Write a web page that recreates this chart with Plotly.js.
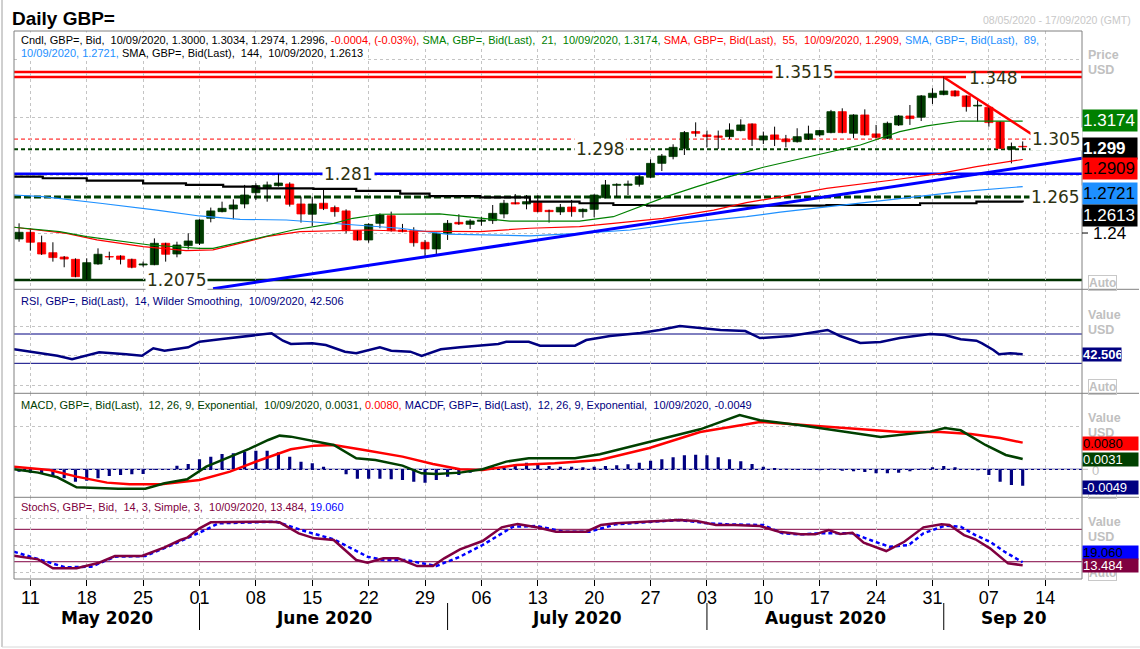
<!DOCTYPE html>
<html><head><meta charset="utf-8">
<script src="https://cdn.plot.ly/plotly-3.0.1.min.js"></script>
<style>html,body{margin:0;padding:0;background:#fff;}#chart{width:1140px;height:649px;}</style>
</head><body><div id="chart"></div>
<script>
// ---------------- DATA ----------------
// daily candles, index 0 = 08/05/2020 ... 89 = 10/09/2020 (weekdays)
const open  = [1.2359,1.2405,1.2333,1.2264,1.2234,1.2218,1.2080,1.2186,1.2237,1.2241,1.2218,1.2179,1.2181,1.2329,1.2255,1.2313,1.2329,1.2502,1.2548,1.2566,1.2601,1.2679,1.2714,1.2728,1.2739,1.2601,1.2530,1.2606,1.2576,1.2553,1.2416,1.2352,1.2467,1.2520,1.2421,1.2416,1.2336,1.2290,1.2398,1.2474,1.2460,1.2481,1.2486,1.2532,1.2610,1.2601,1.2610,1.2557,1.2546,1.2580,1.2548,1.2564,1.2645,1.2730,1.2730,1.2737,1.2786,1.2882,1.2929,1.2986,1.3102,1.3079,1.3072,1.3067,1.3109,1.3155,1.3044,1.3079,1.3051,1.3032,1.3049,1.3079,1.3095,1.3240,1.3090,1.3217,1.3086,1.3056,1.3148,1.3210,1.3201,1.3337,1.3358,1.3383,1.3349,1.3279,1.3270,1.3169,1.2979,1.3000];
const high  = [1.2467,1.2433,1.2382,1.2336,1.2241,1.2225,1.2225,1.2294,1.2271,1.2246,1.2223,1.2202,1.2363,1.2333,1.2340,1.2398,1.2495,1.2576,1.2617,1.2633,1.2733,1.2744,1.2756,1.2810,1.2751,1.2652,1.2652,1.2698,1.2590,1.2564,1.2421,1.2467,1.2536,1.2548,1.2463,1.2440,1.2352,1.2403,1.2490,1.2530,1.2495,1.2513,1.2594,1.2629,1.2670,1.2663,1.2663,1.2562,1.2601,1.2629,1.2571,1.2668,1.2767,1.2744,1.2763,1.2802,1.2910,1.2947,1.3014,1.3106,1.3166,1.3109,1.3109,1.3159,1.3187,1.3159,1.3102,1.3136,1.3079,1.3125,1.3143,1.3113,1.3252,1.3263,1.3222,1.3256,1.3148,1.3171,1.3217,1.3286,1.3355,1.3402,1.3482,1.3388,1.3353,1.3325,1.3275,1.3173,1.3026,1.3034];
const low   = [1.2340,1.2278,1.2248,1.2202,1.2163,1.2094,1.2075,1.2180,1.2213,1.2183,1.2156,1.2167,1.2177,1.2202,1.2232,1.2287,1.2317,1.2474,1.2543,1.2495,1.2571,1.2629,1.2617,1.2721,1.2583,1.2472,1.2449,1.2559,1.2513,1.2398,1.2347,1.2333,1.2433,1.2410,1.2405,1.2306,1.2237,1.2253,1.2352,1.2456,1.2428,1.2451,1.2463,1.2502,1.2599,1.2564,1.2543,1.2472,1.2525,1.2513,1.2506,1.2509,1.2640,1.2652,1.2663,1.2721,1.2779,1.2829,1.2910,1.2940,1.3067,1.2993,1.2982,1.3051,1.3104,1.3002,1.3016,1.3002,1.2993,1.3026,1.3044,1.3067,1.3090,1.3090,1.3056,1.3074,1.3056,1.3051,1.3141,1.3148,1.3175,1.3293,1.3353,1.3344,1.3240,1.3171,1.3136,1.2982,1.2882,1.2974];
const close = [1.2405,1.2336,1.2255,1.2230,1.2220,1.2098,1.2195,1.2253,1.2234,1.2218,1.2163,1.2186,1.2329,1.2253,1.2317,1.2345,1.2490,1.2553,1.2571,1.2594,1.2663,1.2728,1.2733,1.2746,1.2599,1.2532,1.2601,1.2569,1.2548,1.2416,1.2352,1.2460,1.2525,1.2416,1.2410,1.2333,1.2290,1.2398,1.2467,1.2463,1.2483,1.2490,1.2536,1.2606,1.2601,1.2617,1.2548,1.2548,1.2578,1.2548,1.2564,1.2663,1.2733,1.2737,1.2739,1.2790,1.2882,1.2933,1.2993,1.3095,1.3090,1.3067,1.3062,1.3113,1.3148,1.3049,1.3072,1.3049,1.3032,1.3067,1.3086,1.3109,1.3240,1.3095,1.3217,1.3079,1.3062,1.3159,1.3210,1.3192,1.3349,1.3367,1.3383,1.3349,1.3275,1.3284,1.3164,1.2986,1.2998,1.2996];

// moving averages (x = candle index)
const sma21X = [-0.45,3.6,6,9.2,11.6,16,17.2,20.5,23.1,24.3,27.9,29.6,32,37.3,43.5,49.7,52.7,55.1,57.4,60.1,63,66,70.2,74.6,78.1,80.5,83.5,86.4,89];
const sma21Y = [1.2440,1.2410,1.2375,1.2340,1.2317,1.2294,1.2294,1.2352,1.2398,1.2421,1.2467,1.2502,1.2530,1.2532,1.2483,1.2483,1.2513,1.2583,1.2652,1.2721,1.2790,1.2855,1.2929,1.3009,1.3102,1.3141,1.3175,1.3175,1.3174];
const sma55X = [-0.45,4.2,6.9,11,14.8,17.2,20.2,21.9,24.9,27.9,30.8,33.8,37.9,40.9,45.3,49.7,52.7,57.1,61.6,64.5,67.5,71.6,77.5,81.7,84.9,89];
const sma55Y = [1.2440,1.2398,1.2352,1.2306,1.2278,1.2283,1.2340,1.2375,1.2410,1.2414,1.2421,1.2414,1.2410,1.2410,1.2433,1.2444,1.2467,1.2502,1.2559,1.2610,1.2650,1.2709,1.2767,1.2813,1.2859,1.2909];
const sma89X = [-0.45,2.1,7.2,12.2,16,19.6,23.7,27.9,30.8,33.8,37.9,40.9,45.3,49.7,54.2,58.6,61.6,64.5,67.5,71.6,77.5,83.5,89];
const sma89Y = [1.2663,1.2652,1.2606,1.2559,1.2518,1.2495,1.2490,1.2467,1.2451,1.2433,1.2393,1.2386,1.2380,1.2398,1.2421,1.2467,1.2490,1.2513,1.2545,1.2583,1.2633,1.2686,1.2721];
const sma144X = [-0.45,2.1,6,11,14.8,18.1,21.1,26.1,29.9,33.8,36.4,40.9,45.3,49.7,52.7,55.7,60.1,64.5,71.6,79.9,84.9,89];
const sma144Y = [1.2790,1.2779,1.2762,1.2744,1.2733,1.2721,1.2709,1.2705,1.2691,1.2672,1.2655,1.2647,1.2617,1.2606,1.2594,1.2589,1.2589,1.2590,1.2594,1.2606,1.2617,1.2613];

// drawn trend lines
const upTrendX = [17.2, 94.26], upTrendY = [1.2015, 1.2917];
const downTrendX = [82, 91.6], downTrendY = [1.3478, 1.2993];

// horizontal levels
const levels      = [1.3515, 1.348, 1.305, 1.298, 1.281, 1.265, 1.2075];
const levelLabels = ['1.3515','1.348','1.305','1.298','1.281','1.265','1.2075'];

// RSI 14
const rsiX = [-0.45,1.7,3.4,4.7,6.1,7.1,9.5,10.9,11.9,12.9,15,16,18,21,22.4,23.4,24.1,26,27.2,28.9,29.9,32,33,34.7,35.7,37.4,39.1,42.5,43.2,45.2,46.2,49.3,50.3,51.5,52.4,55.1,56.8,58.6,60.4,62.2,64.4,65.7,68.4,70.2,71.7,72.8,74.6,76.4,78.1,80.8,82.1,83.5,84.9,85.4,86.4,86.9,87.9,89];
const rsiY = [49.1,43.7,40.4,35.5,41.3,45,42.3,40.4,50.5,47.2,51.9,59.5,63.2,68.6,70.9,60.9,56.4,57.3,55,45.9,43.7,51.9,47.2,45.9,40,49.1,51.9,56.4,59.5,59.5,54,54,61.8,65,67.3,71.4,75.5,80.9,78.2,75.5,74.1,64.5,67.3,71.4,75.5,67.3,57.7,59.1,64.5,70,68.6,62.8,60.9,57.3,48.2,42.3,43.7,42.506];

// MACD 12,26,9
const macdX = [-0.45,1.7,3.4,5.1,8.8,11.2,12.9,14.9,16.6,18.7,20.4,22.1,23.1,24.1,26.2,27.9,29.9,31.6,34,35.7,37,39.1,41.1,43.2,45.2,49.3,51.5,55.1,60.4,63.9,65.7,69.3,73.7,76.4,80.8,82.1,83.5,85.7,87.5,89];
const macdY = [0,-0.0010,-0.0024,-0.0054,-0.0058,-0.0058,-0.0042,-0.0030,0.0008,0.0038,0.0061,0.0088,0.0101,0.0098,0.0083,0.0073,0.0033,0.0028,0.0011,-0.0012,-0.0014,-0.0010,0,0.0023,0.0033,0.0033,0.0045,0.0075,0.0120,0.0163,0.0147,0.0132,0.0111,0.0097,0.0113,0.0124,0.0117,0.0073,0.0043,0.0031];
const signalX = [-0.45,2.7,5.1,7.8,9.8,12.6,16,18.7,21.4,24.1,26.2,27.9,30.6,34,36.7,39.1,41.1,44.1,47.5,51.5,55.9,60.4,65.7,69.3,73.7,78.1,81.7,84.4,87,89];
const signalY = [0.0008,-0.0002,-0.0022,-0.0040,-0.0045,-0.0045,-0.0032,-0.0007,0.0028,0.0060,0.0071,0.0073,0.0058,0.0038,0.0016,0,-0.0002,0.0013,0.0018,0.0028,0.0064,0.0112,0.0142,0.0133,0.0124,0.0112,0.0112,0.0106,0.0094,0.0080];
const histY = [-0.0007,-0.0010,-0.0012,-0.0022,-0.0027,-0.0037,-0.0034,-0.0027,-0.0020,-0.0017,-0.0015,-0.0014,-0.0002,0.0001,0.0011,0.0016,0.0030,0.0038,0.0046,0.0048,0.0053,0.0056,0.0056,0.0051,0.0038,0.0023,0.0018,0.0008,0.0000,-0.0015,-0.0028,-0.0028,-0.0028,-0.0030,-0.0032,-0.0037,-0.0040,-0.0032,-0.0022,-0.0017,-0.0010,0.0000,0.0006,0.0010,0.0016,0.0020,0.0016,0.0010,0.0008,0.0008,0.0006,0.0008,0.0010,0.0012,0.0015,0.0020,0.0026,0.0030,0.0036,0.0042,0.0044,0.0042,0.0036,0.0030,0.0024,0.0016,0.0008,0.0004,0.0002,-0.0002,-0.0002,-0.0003,0.0002,-0.0004,-0.0006,-0.0008,-0.0012,-0.0012,-0.0010,-0.0006,0.0002,0.0006,0.0010,0.0006,-0.0002,-0.0003,-0.0017,-0.0037,-0.0047,-0.0049];

// Slow stochastic 14,3,3
const stochKX = [-0.45,1.7,3.0,5.1,7.1,8.5,10.9,12.9,14.3,14.9,16,17,22.1,23.1,24.8,26.2,27.9,29.9,30.9,32.3,33.6,35.3,36.7,37.7,39.1,41.1,42.8,44.2,45.9,47.6,50.3,51.6,52.9,55.5,58.5,60.1,61.8,63.4,65.7,67.4,69.3,70.6,71.8,72.8,73.9,74.9,76.9,78.5,80.2,81.8,82.5,83.8,84.8,86.1,87.7,89];
const stochKY = [31.1,24.4,7.8,7.8,18.1,30.6,30.6,46.7,60.2,64.4,81.8,93,94.1,93,72.6,63.3,60.2,23.1,18.1,26.3,26.3,12,12,26.3,43,58.3,83.7,89.8,83.7,75.6,75.6,88,91.1,94.1,97.2,95.4,88,88,86.1,75.6,70.7,70.7,78.7,71.3,73.7,55.2,39.8,57,83.7,89.2,88,69.4,61.5,44.8,17,13.484];
const stochDX = [-0.45,2.0,4.1,6.4,8.5,11.2,13.9,16.3,17.7,22.8,25.5,27.9,30.9,32.3,34.3,37,39.1,41.1,43.8,45.9,48.3,50.6,52.9,58.5,61.1,62.8,66,67.7,69.3,71,73.9,75.9,77.2,78.9,80.2,82.1,83.5,84.8,86.1,87.4,89];
const stochDY = [38.5,23.1,9.6,10.7,29.3,30.6,54.1,76.9,91.1,94.1,75.6,61.5,29.3,23.1,23.1,12,29.3,50.9,84.8,86.1,75.6,75.6,89.2,97.2,91.1,89.2,88,72.6,70.7,72.6,72.6,57,47.8,50.9,72.6,86.7,84.8,69.4,57,38.5,19.06];

// x-axis labels (Mondays)
const tickIdx  = [1,6,11,16,21,26,31,36,41,46,51,56,61,66,71,76,81,86,91];
const tickText = ['11','18','25','01','08','15','22','29','06','13','20','27','03','10','17','24','31','07','14'];
const monthStart = [16,38,61,82];
const monthNames = ['May 2020','June 2020','July 2020','August 2020','Sep 20'];
const monthMid   = [7.8,27,49.5,71.5,88.2];

// ---------------- LAYOUT GEOMETRY ----------------
const W=1140,H=649,PL=14,PR=1082,PT=31,PB=579,PW=PR-PL,PH=PB-PT;
const px = p => (p-PL)/PW, py = p => (PB-p)/PH;
const dPrice=[py(289.3),1], dRsi=[py(393.3),py(289.3)], dMacd=[py(497.3),py(393.3)], dSto=[0,py(497.3)];
const UP='#003c00', DN='#ff0000', NAVY='#000080', MAROON='#800040', GRID='#c4c4c4';

const idx = open.map((_,k)=>k);
const wx=[], wy=[];
idx.forEach(k=>{wx.push(k,k,null); wy.push(low[k],high[k],null);});

const traces = [
  {type:'scatter',mode:'lines',x:wx,y:wy,line:{color:'#000',width:1},xaxis:'x',yaxis:'y',hoverinfo:'skip'},
  {type:'bar',x:idx,base:idx.map(k=>Math.min(open[k],close[k])),y:idx.map(k=>Math.abs(close[k]-open[k])),width:0.72,
   marker:{color:idx.map(k=>close[k]>=open[k]?UP:DN),line:{width:0.8,color:idx.map(k=>close[k]>=open[k]?UP:DN)}},xaxis:'x',yaxis:'y'},
  {type:'scatter',mode:'lines',x:sma144X,y:sma144Y,line:{color:'#000',width:2.2,shape:'hv'},xaxis:'x',yaxis:'y'},
  {type:'scatter',mode:'lines',x:sma89X,y:sma89Y,line:{color:'#1e90ff',width:1.2},xaxis:'x',yaxis:'y'},
  {type:'scatter',mode:'lines',x:sma55X,y:sma55Y,line:{color:'#ff0000',width:1.2},xaxis:'x',yaxis:'y'},
  {type:'scatter',mode:'lines',x:sma21X,y:sma21Y,line:{color:'#008000',width:1.2},xaxis:'x',yaxis:'y'},
  {type:'scatter',mode:'lines',x:upTrendX,y:upTrendY,line:{color:'#0000ff',width:3},xaxis:'x',yaxis:'y'},
  {type:'scatter',mode:'lines',x:downTrendX,y:downTrendY,line:{color:'#ff0000',width:2.5},xaxis:'x',yaxis:'y'},
  {type:'scatter',mode:'lines',x:rsiX,y:rsiY,line:{color:NAVY,width:2.5},xaxis:'x',yaxis:'y2'},
  {type:'bar',x:idx,y:histY,width:0.28,marker:{color:NAVY},xaxis:'x',yaxis:'y3'},
  {type:'scatter',mode:'lines',x:signalX,y:signalY,line:{color:'#ff0000',width:2.5},xaxis:'x',yaxis:'y3'},
  {type:'scatter',mode:'lines',x:macdX,y:macdY,line:{color:'#004000',width:2.5},xaxis:'x',yaxis:'y3'},
  {type:'scatter',mode:'lines',x:stochDX,y:stochDY,line:{color:'#0000ff',width:2.5,dash:'4px,3px'},xaxis:'x',yaxis:'y4'},
  {type:'scatter',mode:'lines',x:stochKX,y:stochKY,line:{color:MAROON,width:2.5},xaxis:'x',yaxis:'y4'}
];

const yBase = {showticklabels:false,ticks:'',zeroline:false,showline:false,gridcolor:GRID,griddash:'3px,3px',gridwidth:1,fixedrange:true,anchor:'x'};
const layout = {
  width:W,height:H,margin:{l:PL,r:W-PR,t:PT,b:H-PB,pad:0},paper_bgcolor:'#fff',plot_bgcolor:'#fff',
  showlegend:false,barmode:'overlay',hovermode:false,
  xaxis:{range:[-0.45,94.26],anchor:'y4',tickmode:'array',tickvals:tickIdx,ticktext:tickText,ticks:'outside',ticklen:6,tickcolor:'#000',
         ticklabelstandoff:-4,
         tickfont:{family:'Liberation Sans, Arial',size:18,color:'#000'},gridcolor:GRID,griddash:'3px,3px',zeroline:false,showline:false,automargin:false,fixedrange:true},
  yaxis:Object.assign({},yBase,{domain:dPrice,range:[1.20106,1.3798],tickvals:[1.24,1.28,1.32,1.36]}),
  yaxis2:Object.assign({},yBase,{domain:dRsi,range:[-10.9,131],tickvals:[0,40,80]}),
  yaxis3:Object.assign({},yBase,{domain:dMacd,range:[-0.0084,0.0228],tickvals:[0,0.0128]}),
  yaxis4:Object.assign({},yBase,{domain:dSto,range:[-12,139.3],tickvals:[0,50,100]}),
  shapes:[],annotations:[]
};
const S=layout.shapes, A=layout.annotations;

// level lines
const lvStyle=[
  {c:'#ff0000',w:2.5,d:'solid'},{c:'#ff0000',w:2.5,d:'solid'},{c:'#ff0000',w:1,d:'4px,3px'},
  {c:'#004000',w:2,d:'4px,3px'},{c:'#0000ff',w:2.5,d:'solid'},{c:'#004000',w:3,d:'7px,3px'},{c:'#003300',w:2.5,d:'solid'}];
levels.forEach((v,k)=>S.push({type:'line',layer:'below',xref:'paper',yref:'y',x0:0,x1:1,y0:v,y1:v,line:{color:lvStyle[k].c,width:lvStyle[k].w,dash:lvStyle[k].d}}));
// indicator reference lines
[70,30].forEach(v=>S.push({type:'line',layer:'below',xref:'paper',yref:'y2',x0:0,x1:1,y0:v,y1:v,line:{color:NAVY,width:1}}));
S.push({type:'line',layer:'below',xref:'paper',yref:'y3',x0:0,x1:1,y0:0,y1:0,line:{color:NAVY,width:1.2}});
[80,20].forEach(v=>S.push({type:'line',layer:'below',xref:'paper',yref:'y4',x0:0,x1:1,y0:v,y1:v,line:{color:MAROON,width:1}}));
// frames
S.push({type:'rect',xref:'paper',yref:'paper',x0:0,x1:1,y0:0,y1:1,line:{color:'#808080',width:1}});
[289.3,393.3,497.3].forEach(p=>S.push({type:'line',xref:'paper',yref:'paper',x0:0,x1:px(1139),y0:py(p),y1:py(p),line:{color:'#808080',width:1}}));
S.push({type:'line',xref:'paper',yref:'paper',x0:px(2),x1:px(2),y0:py(0),y1:py(647),line:{color:'#a0a0a0',width:1}});
S.push({type:'line',xref:'paper',yref:'paper',x0:px(2),x1:px(1140),y0:py(647),y1:py(647),line:{color:'#d8d8d8',width:1}});
// month separators
monthStart.forEach(m=>S.push({type:'line',xref:'x',yref:'paper',x0:m,x1:m,y0:py(603),y1:py(630),line:{color:'#000',width:1}}));
// white gap for the 1.348 label (only across its own line)
S.push({type:'rect',xref:'paper',yref:'y',x0:px(966),x1:px(1021),y0:1.3466,y1:1.3494,fillcolor:'#fff',line:{width:0}});
// right-axis tick marks
S.push({type:'line',xref:'paper',yref:'y',x0:1,x1:px(1088),y0:1.24,y1:1.24,line:{color:'#000',width:1}});
S.push({type:'line',xref:'paper',yref:'y3',x0:1,x1:px(1088),y0:0,y1:0,line:{color:'#c0c0c0',width:1}});

// level label texts
const lvPx=[803,993,1056,600,348,1055,176];
levels.forEach((v,k)=>A.push({xref:'paper',yref:'y',x:px(lvPx[k]),y:v,text:levelLabels[k],showarrow:false,xanchor:'center',yanchor:'middle',
  font:{family:'DejaVu Sans',size:17,color:'#2e3212'},bgcolor:k===1?'rgba(0,0,0,0)':'#fff',borderpad:1,yshift:k===1?-1:0}));

// headers
const F='Liberation Sans, Arial';
function note(x,y,text,opt){A.push(Object.assign({xref:'paper',yref:'paper',x:px(x),y:py(y),text:text,showarrow:false,xanchor:'left',yanchor:'middle'},opt));}
note(10,18,'<b>Daily GBP=</b>',{font:{family:F,size:19,color:'#000'}});
A.push({xref:'paper',yref:'paper',x:px(1133),y:py(20),text:'08/05/2020 - 17/09/2020 (GMT)',showarrow:false,xanchor:'right',yanchor:'middle',font:{family:F,size:10.5,color:'#c8c8c8'}});
const hf={family:F,size:11,color:'#000'};
note(19,40,'Cndl, GBP=, Bid,\u00a0 10/09/2020, 1.3000, 1.3034, 1.2974, 1.2996, <span style="color:#ff0000">-0.0004, (-0.03%),</span> <span style="color:#008000">SMA, GBP=, Bid(Last),\u00a0 21,\u00a0 10/09/2020, 1.3174,</span> <span style="color:#ff0000">SMA, GBP=, Bid(Last),\u00a0 55,\u00a0 10/09/2020, 1.2909,</span> <span style="color:#1e90ff">SMA, GBP=, Bid(Last),\u00a0 89,</span>',{font:hf,bgcolor:'#fff',borderpad:1});
note(19,53,'<span style="color:#1e90ff">10/09/2020, 1.2721,</span> SMA, GBP=, Bid(Last),\u00a0 144,\u00a0 10/09/2020, 1.2613',{font:hf,bgcolor:'#fff',borderpad:1});
note(19,301,'RSI, GBP=, Bid(Last),\u00a0 14, Wilder Smoothing,\u00a0 10/09/2020, 42.506',{font:Object.assign({},hf,{color:NAVY}),bgcolor:'#fff',borderpad:1});
note(19,405,'<span style="color:#004000">MACD, GBP=, Bid(Last),\u00a0 12, 26, 9, Exponential,\u00a0 10/09/2020, 0.0031,</span> <span style="color:#ff0000">0.0080,</span> <span style="color:#000080">MACDF, GBP=, Bid(Last),\u00a0 12, 26, 9, Exponential,\u00a0 10/09/2020, -0.0049</span>',{font:hf,bgcolor:'#fff',borderpad:1});
note(19,507,'<span style="color:#800040">StochS, GBP=, Bid,\u00a0 14, 3, Simple, 3,\u00a0 10/09/2020, 13.484,</span> <span style="color:#0000ff">19.060</span>',{font:hf,bgcolor:'#fff',borderpad:1});

// right axis captions
const gf={family:F,size:12.5,color:'#c0c0c0',weight:'bold'};
[['Price',55],['USD',70],['Value',315],['USD',330],['Value',418],['USD',433],['Value',522],['USD',537]].forEach(c=>note(1086,c[1],c[0],{font:gf}));
[283,387,491,573].forEach(y=>note(1088,y,'Auto',{font:{family:F,size:12,color:'#c0c0c0',weight:'bold'},bordercolor:'#c8c8c8',borderwidth:1,borderpad:0}));
note(1091,233,'1.24',{font:{family:F,size:17,color:'#000'}});
note(1090,470,'0',{font:{family:F,size:13,color:'#c0c0c0'}});

// value boxes
function box(y,text,bg,fg,size,w,h,bold){note(PR,y,text,{font:{family:F,size:size,color:fg,weight:bold?'bold':'normal'},bgcolor:bg,borderpad:0,width:w,height:h,align:'left'});}
box(121,'1.3174','#008000','#fff',17,54,21);
box(148,'1.299','#000','#fff',17,54,21,true);
box(169,'1.2909','#ff0000','#000',17,54,21);
box(193,'1.2721','#1e90ff','#000',17,54,21);
box(215,'1.2613','#000','#fff',17,54,21);
box(354,'42.506','#000080','#fff',13,38,13,true);
box(443.5,'0.0080','#ff0000','#000',13,55,13);
box(459,'0.0031','#004000','#fff',13,55,13);
box(487,'-0.0049','#000080','#fff',13,55,13);
box(552,'19.060','#0000ff','#000',13,55,13);
box(565,'13.484','#800040','#fff',13,55,13);

// month labels
monthNames.forEach((m,k)=>A.push({xref:'x',yref:'paper',x:monthMid[k],y:py(618),text:m,showarrow:false,xanchor:'center',yanchor:'middle',
  font:{family:'DejaVu Sans',size:17,color:'#000',weight:'bold'}}));

Plotly.newPlot('chart',traces,layout,{staticPlot:true,displayModeBar:false});
</script></body></html>
